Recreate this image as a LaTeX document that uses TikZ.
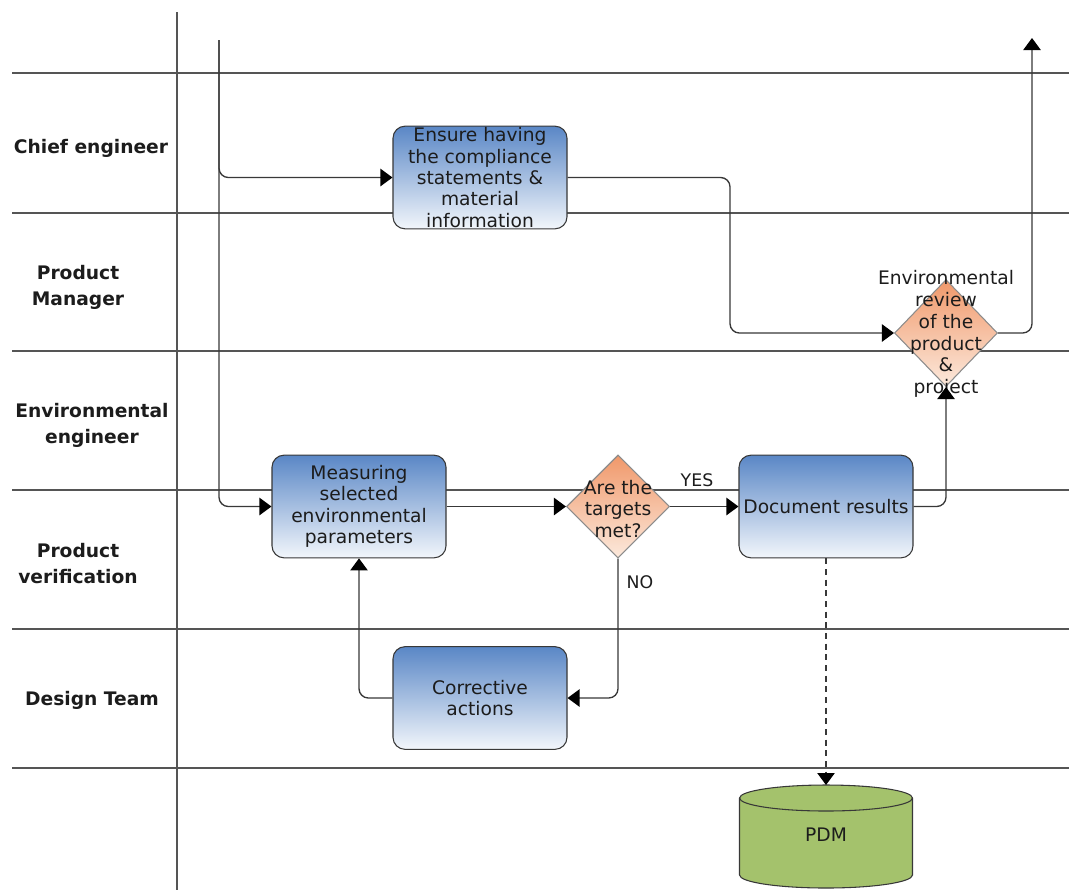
\documentclass[tikz,border=0pt]{standalone}
\usepackage{fontspec}
\setmainfont{DejaVu Sans}
\usetikzlibrary{arrows.meta,shapes.geometric}
\definecolor{laneline}{HTML}{555555}
\definecolor{flowline}{HTML}{383838}
\definecolor{taskTop}{HTML}{5A87C6}
\definecolor{taskBot}{HTML}{F2F6FB}
\definecolor{decTop}{HTML}{F0986A}
\definecolor{decBot}{HTML}{FCE9DC}
\definecolor{decEdge}{HTML}{8C8C8C}
\definecolor{pdmfill}{HTML}{A4C26C}
\definecolor{ink}{HTML}{1C1C1C}
\begin{document}
\begin{tikzpicture}[x=0.75pt,y=-0.75pt,
  lane/.style={draw=laneline, line width=1.1pt},
  lanelabel/.style={font=\bfseries\fontsize{14}{19.5}\selectfont, align=center, text=ink},
  task/.style={draw=flowline, line width=0.8pt, rounded corners=9pt,
    top color=taskTop, bottom color=taskBot,
    minimum width=130.5pt, minimum height=77pt, inner sep=0pt,
    align=center, font=\fontsize{14}{16}\selectfont, text=ink},
  decision/.style={diamond, draw=decEdge, line width=0.8pt,
    top color=decTop, bottom color=decBot, inner sep=0pt},
  dectext/.style={align=center, font=\fontsize{14}{16.3}\selectfont, text=ink},
  flow/.style={draw=flowline, line width=1pt, rounded corners=7pt,
    -{Triangle[length=9pt,width=13pt,color=black]}},
  tag/.style={font=\fontsize{13}{15}\selectfont, text=ink}
]
\useasboundingbox (0,0) rectangle (1069,890);

% swimlane grid
\foreach \yy in {73,213,351,490,629,768}
  \draw[lane] (12,\yy) -- (1069,\yy);
\draw[lane] (177,12) -- (177,890);

% lane titles
\node[lanelabel] (l1) at (91,148) {Chief engineer};
\node[lanelabel] (l2) at (78,287) {Product\\Manager};
\node[lanelabel] (l3) at (92,425) {Environmental\\engineer};
\node[lanelabel] (l4) at (78,564) {Product\\verification};
\node[lanelabel] (l5) at (92,700) {Design Team};

% activities
\node[task] (ensure) at (480,177.5) {Ensure having\\the compliance\\statements \&\\material\\information};
\node[task] (meas) at (359,506.5) {Measuring\\selected\\environmental\\parameters};
\node[task] (doc) at (826,506.5) {Document results};
\node[task] (corr) at (480,698) {Corrective\\actions};

% decisions
\node[decision, minimum width=77.25pt, minimum height=80.25pt] (envrev) at (946,333) {};
\node[dectext] (envrevtxt) at (946,334) {Environmental\\review\\of the\\product\\\&\\project};
\node[decision, minimum width=77.25pt, minimum height=77.25pt] (target) at (618,506.5) {};
\node[dectext] (targettxt) at (618,509) {Are the\\targets\\met?};

% data store
\coordinate (pdmtop) at (826,785);
\filldraw[fill=pdmfill, draw=flowline, line width=0.8pt]
  (739.5,798) -- (739.5,875)
  arc[start angle=180, end angle=0, x radius=86.5, y radius=13]
  -- (912.5,798)
  arc[start angle=0, end angle=-180, x radius=86.5, y radius=13] -- cycle;
\draw[draw=flowline, line width=0.8pt]
  (739.5,798) arc[start angle=180, end angle=0, x radius=86.5, y radius=13];
\node[font=\fontsize{14}{16}\selectfont, text=ink] (pdm) at (826,835) {PDM};

% process start and end
\coordinate (start) at (219,40);
\coordinate (finish) at (1032,38);
\coordinate (bendA) at (730,0);

% connectors
\draw[flow] (start) |- (ensure.west);
\draw[flow] (start) |- (meas.west);
\draw[flow] (ensure.east) -| (bendA |- envrev.west) -- (envrev.west);
\draw[flow] (envrev.east) -| (finish);
\draw[flow] (meas.east) -- (target.west);
\draw[flow] (target.east) -- (doc.west);
\node[tag] (yes) at (697,480) {YES};
\draw[flow] (target.south) |- (corr.east);
\node[tag] (no) at (640,582) {NO};
\draw[flow] (corr.west) -| (meas.south);
\draw[flow] (doc.east) -| (envrev.south);
\draw[flow, rounded corners=0pt, dash pattern=on 4.5pt off 3.5pt] (doc.south) -- (pdmtop);
\end{tikzpicture}
\end{document}
